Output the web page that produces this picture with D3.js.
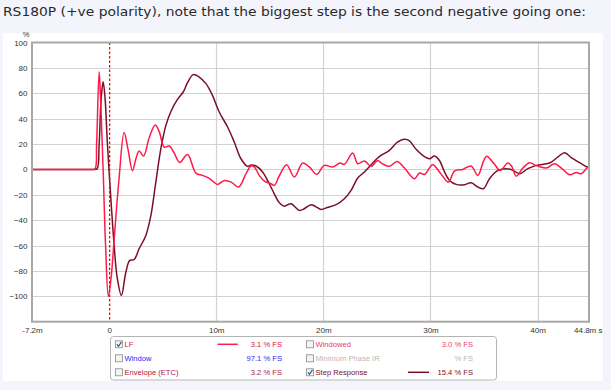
<!DOCTYPE html>
<html><head><meta charset="utf-8">
<script src="https://cdn.jsdelivr.net/npm/d3@7/dist/d3.min.js"></script>
<style>
html,body{margin:0;padding:0;background:#f4f4fc;}
svg{display:block;}
</style></head>
<body>
<svg id="c" width="611" height="390"></svg>
<script>
// ---- data (time in ms, value in %) ----
const titleText = "RS180P (+ve polarity), note that the biggest step is the second negative going one:";
const yTicks = [-100, -80, -60, -40, -20, 0, 20, 40, 60, 80, 100];
const xTicks = [-7.2, 0, 10, 20, 30, 40, 44.8];
const xTickLabels = ["-7.2m", "0", "10m", "20m", "30m", "40m", "44.8m s"];
const xGrid = [10, 20, 30, 40];

const lfTime = [-7.2,-5,-3,-1.6,-1.31,-1.17,-0.93,-0.75,-0.56,-0.33,-0.07,0.19,0.47,0.93,1.40,1.78,2.18,2.52,2.80,3.21,3.74,4.30,4.67,5.14,5.61,6.07,6.59,7.32,8.10,8.72,9.35,10.12,10.75,11.40,12.08,12.78,13.24,13.55,14.02,14.49,15.11,15.42,15.89,16.57,17.29,18.07,18.69,19.37,20.09,20.87,21.56,21.96,22.74,23.21,23.83,24.46,25.07,25.42,26.17,26.89,27.57,28.50,28.97,29.44,30.21,30.93,31.68,32.24,33.02,33.80,34.42,34.98,35.26,35.98,36.51,37.22,37.54,38.01,38.63,39.25,39.88,40.81,41.59,42.36,42.99,43.62,44.08,44.61,44.8];
const lfValue = [0,0,0,0,0.5,20,77,45,0,-60,-100,-85,-55,-7,29,15,-1,9,14.5,10.5,25,35,30,17.6,18.4,13,5.5,11.8,-2.9,-4.7,-7,-11.8,-8.7,-10,-13.9,-3.4,2.7,2,-4.7,-9.2,-11.3,-12.6,-5,3.7,-6,5,2,-3.9,3.2,1.9,5,4,12.9,4.5,6.6,2.4,7.1,5,2.4,6.3,1.1,-7.3,-2.8,-4,3.7,-3,-10,-1.3,0,2.7,-4.7,7.1,10.3,4,-0.8,5,3,-5.3,1.1,5.3,3,1.1,4.5,0,-4.2,-2.5,-3.4,1.1,2];

const stepTime = [-7.2,-5,-3,-1.4,-1.12,-0.93,-0.75,-0.56,-0.37,-0.19,0,0.47,0.75,1.15,1.56,1.93,2.34,2.80,3.43,3.90,4.36,4.83,5.30,5.79,6.38,6.92,7.32,7.85,8.41,9.04,9.65,10.28,11.06,11.68,12.31,12.93,13.27,13.71,14.33,14.95,15.42,15.89,16.36,16.98,17.76,18.22,18.85,19.32,19.79,20.37,21.19,21.96,22.59,23.21,23.83,24.46,25.07,25.39,26.17,26.94,27.57,28.04,28.66,29.28,29.91,30.37,30.84,31.31,31.78,32.40,33.18,33.80,34.42,34.95,35.51,36.29,37.07,37.66,38.32,39.09,39.88,41.12,41.90,42.52,43.18,43.93,44.61,44.8];
const stepValue = [0,0,0,0,0.5,20,55,69,55,25,-2,-60,-85,-99.3,-81,-71.7,-71,-62.5,-52,-36.3,-10,16.3,34.7,46,55.2,61,68.3,74.7,72.8,67.6,58.3,45.2,33.4,21.6,8.4,2.4,3.5,2.7,-2,-11.3,-19.2,-26.3,-29,-27,-32.3,-31,-27.8,-29.5,-31.5,-30,-27.8,-23.1,-16.5,-6.8,-2,3.7,9,11,15,21.6,23.7,22.5,15.8,11,8.4,10.5,7,-2,-8.7,-11.8,-12,-10.5,-13.9,-15.2,-7.3,-0.8,0.6,-0.5,-3.4,0.6,3.2,5,9.8,13.2,9,5.3,1.9,1.5];

const legendLabels = ["LF","Windowed","Window","Minimum Phase IR","Envelope (ETC)","Step Response"];
const legendValues = ["3.1 % FS","3.0 % FS","97.1 % FS","% FS","3.2 % FS","15.4 % FS"];
const legendChecked = [true,false,false,false,false,true];
const legendColors = ["#e0103c","#e8406a","#2a2af0","#b8b8b8","#b01838","#7a1028"];
const legendLine = [true,false,false,false,false,true];

// ---- drawing ----
const svg = d3.select("#c");
const P = {l:32, r:589, t:42.5, b:321.7};

svg.append("rect").attr("x",3).attr("y",33).attr("width",600).attr("height",348).attr("fill","#fff");

const title = svg.append("text").attr("x",3).attr("y",16)
  .attr("font-family","DejaVu Sans, Verdana, sans-serif").attr("font-size",12.4)
  .attr("fill","#2a2a2a").text(titleText);
const tl = title.node().getComputedTextLength();
if (Math.abs(tl-583) > 2) title.attr("textLength",583).attr("lengthAdjust","spacingAndGlyphs");

const x = d3.scaleLinear().domain([-7.2, 44.8]).range([P.l, P.r]);
const y = d3.scaleLinear().domain([-120, 100]).range([P.b, P.t]);

const g = svg.append("g");
// grid
g.selectAll(".hg").data(yTicks.filter(v=>v<100)).enter().append("line")
  .attr("x1",P.l).attr("x2",P.r).attr("y1",d=>Math.round(y(d))+0.5).attr("y2",d=>Math.round(y(d))+0.5)
  .attr("stroke","#d2d2d2").attr("stroke-width",1.2);
g.selectAll(".vg").data(xGrid).enter().append("line")
  .attr("y1",P.t).attr("y2",P.b).attr("x1",d=>Math.round(x(d))+0.5).attr("x2",d=>Math.round(x(d))+0.5)
  .attr("stroke","#d2d2d2").attr("stroke-width",1.2);

// y axis labels
const tf = "Liberation Sans, Arial, sans-serif";
const yAxis = d3.axisLeft(y).tickValues(yTicks).tickSize(0).tickPadding(4).tickFormat(d3.format("d"));
const ya = svg.append("g").attr("transform",`translate(${P.l-0.5},0)`).call(yAxis);
ya.select(".domain").remove();
ya.selectAll("text").attr("font-family",tf).attr("font-size",8).attr("fill","#333");
svg.append("text").attr("x",26).attr("y",37).attr("text-anchor","middle")
  .attr("font-family",tf).attr("font-size",7.5).attr("fill","#333").text("%");

// x axis labels
const xAxis = d3.axisBottom(x).tickValues(xTicks).tickSize(0).tickPadding(6)
  .tickFormat((d,i)=>xTickLabels[i]);
const xa = svg.append("g").attr("transform",`translate(0,${P.b})`).call(xAxis);
xa.select(".domain").remove();
xa.selectAll("text").attr("font-family",tf).attr("font-size",8).attr("fill","#333");
xa.selectAll(".tick").filter((d,i)=>i===xTicks.length-1).select("text").attr("text-anchor","end").attr("dx",13);

// curves
const clipId = "plotclip";
svg.append("clipPath").attr("id",clipId).append("rect")
  .attr("x",P.l).attr("y",P.t).attr("width",P.r-P.l).attr("height",P.b-P.t);
const line = d3.line().x(d=>x(d[0])).y(d=>y(d[1])).curve(d3.curveCatmullRom.alpha(0.5));
const pg = svg.append("g").attr("clip-path",`url(#${clipId})`);
pg.append("path").datum(stepTime.map((t,i)=>[t,stepValue[i]]))
  .attr("d",line).attr("fill","none").attr("stroke","#7a1028").attr("stroke-width",1.5);
pg.append("path").datum(lfTime.map((t,i)=>[t,lfValue[i]]))
  .attr("d",line).attr("fill","none").attr("stroke","#ff1a48").attr("stroke-width",1.5);

// zero dashed line
svg.append("line").attr("x1",x(0)+0.5).attr("x2",x(0)+0.5)
  .attr("y1",P.t).attr("y2",P.b).attr("stroke","#ff0000").attr("stroke-width",1.3).attr("stroke-dasharray","2.5,2");

// frame
svg.append("rect").attr("x",P.l).attr("y",P.t).attr("width",P.r-P.l).attr("height",P.b-P.t)
  .attr("fill","none").attr("stroke","#a8a8a8").attr("stroke-width",2);

// legend
const lg = svg.append("g");
lg.append("rect").attr("x",110.5).attr("y",336.5).attr("width",386).attr("height",43.5).attr("rx",3)
  .attr("fill","#fff").attr("stroke","#b4b4b4").attr("stroke-width",1);
const rowsY = [344.3, 358.3, 372.3];
const colX = [{box:115.5,label:124.5,line:[217.5,237.7],val:282},{box:306.5,label:315.5,line:[408,429],val:473}];
legendLabels.forEach((lab,i)=>{
  const row = Math.floor(i/2), col = i%2, cy = rowsY[row], c = colX[col];
  lg.append("rect").attr("x",c.box).attr("y",cy-3.5).attr("width",7).attr("height",7)
    .attr("fill","#f4f4f4").attr("stroke","#8a8a8a").attr("stroke-width",0.8);
  if (legendChecked[i]) {
    lg.append("path").attr("d",`M${c.box+1.5},${cy} L${c.box+3},${cy+2} L${c.box+6},${cy-2.5}`)
      .attr("fill","none").attr("stroke","#3050a0").attr("stroke-width",1.2);
  }
  lg.append("text").attr("x",c.label).attr("y",cy+3).attr("font-family",tf).attr("font-size",7.6)
    .attr("fill",legendColors[i]).text(lab);
  if (legendLine[i]) {
    lg.append("line").attr("x1",c.line[0]).attr("x2",c.line[1]).attr("y1",cy).attr("y2",cy)
      .attr("stroke",i===0?"#ff1a48":"#7a1028").attr("stroke-width",1.5);
  }
  lg.append("text").attr("x",c.val).attr("y",cy+3).attr("text-anchor","end").attr("font-family",tf).attr("font-size",7.6)
    .attr("fill",legendColors[i]).text(legendValues[i]);
});
</script>
</body></html>
